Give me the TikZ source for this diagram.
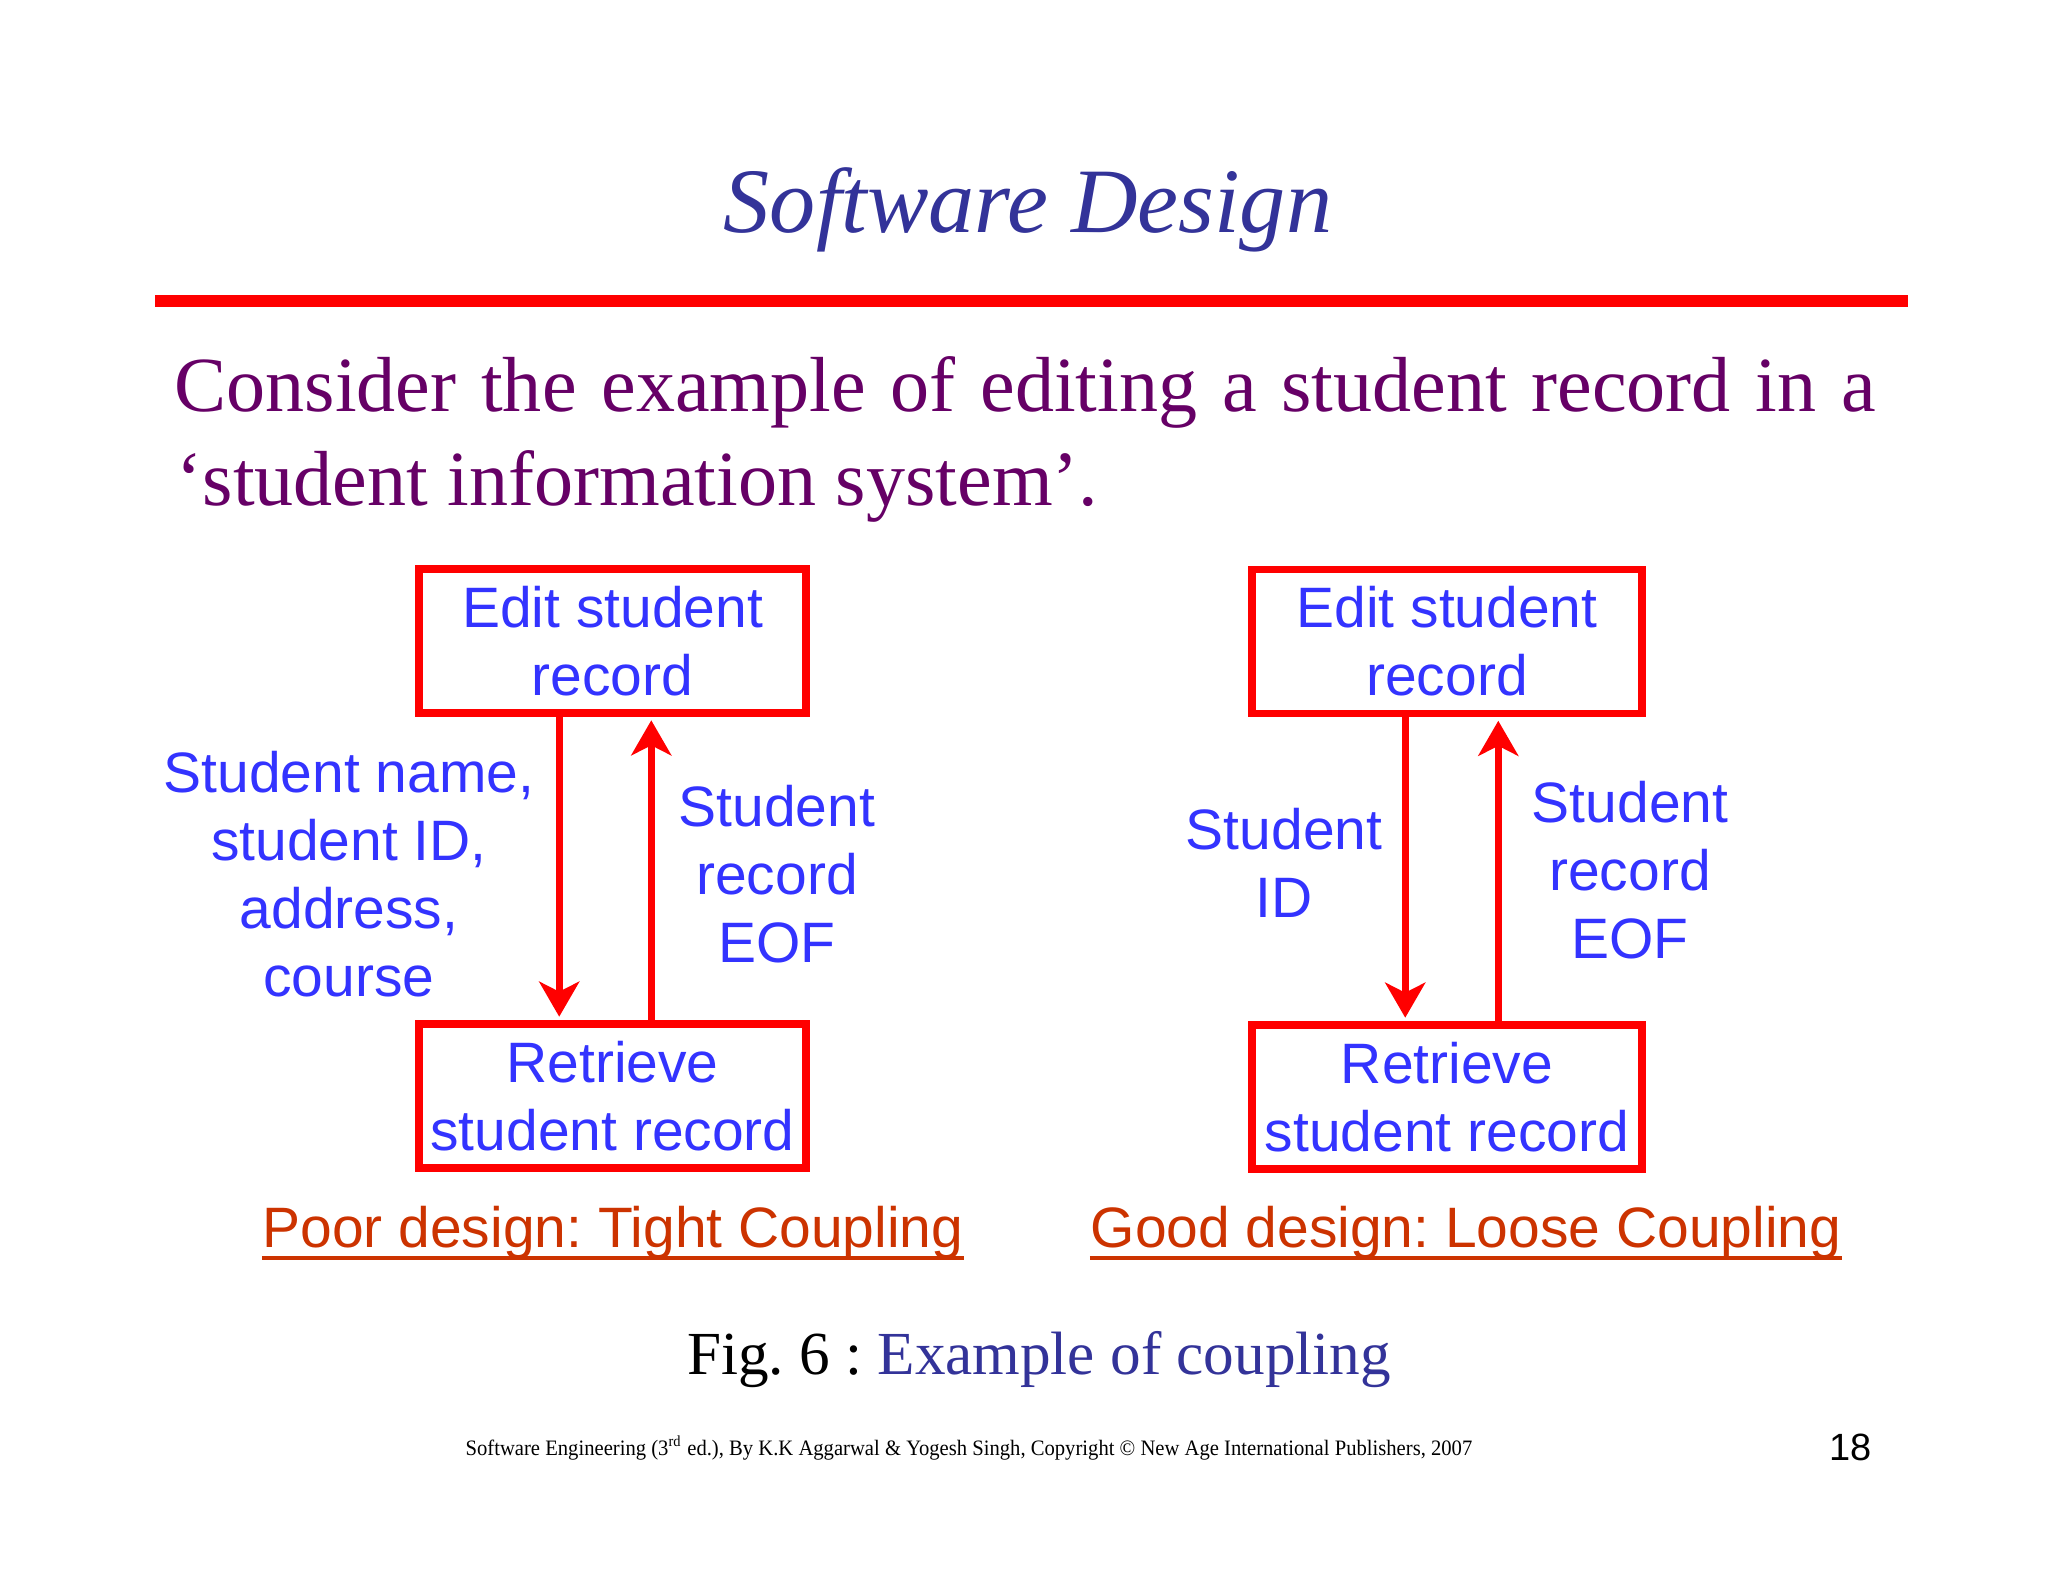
\documentclass[tikz,border=0pt]{standalone}
\usepackage{graphicx}
\usepackage{fontspec}
\setmainfont{Liberation Serif}
\newfontfamily\arialf{Liberation Sans}
\usetikzlibrary{arrows.meta}
\definecolor{boxred}{HTML}{FF0000}
\definecolor{txtblue}{HTML}{3333FF}
\definecolor{titleblue}{HTML}{333399}
\definecolor{purp}{HTML}{660066}
\definecolor{capred}{HTML}{CC3300}
\frenchspacing
\begin{document}
\begin{tikzpicture}[x=0.01cm,y=-0.01cm,
  box/.style={draw=boxred, line width=0.075cm, minimum width=3.87cm, minimum height=1.44cm, inner sep=0pt, align=center, text=txtblue, font=\arialf\fontsize{16.2}{19.35}\selectfont},
  lbl/.style={inner sep=0pt, align=center, text=txtblue, font=\arialf\fontsize{16.2}{19.35}\selectfont},
  arr/.style={draw=boxred, line width=0.07cm, -{Stealth[length=0.35cm,width=0.40cm,inset=0.1cm]}, shorten >=0.035cm},
  captxt/.style={inner sep=0pt, anchor=base, text=capred, font=\arialf\fontsize{16.2}{19.35}\selectfont},
  uline/.style={draw=capred, line width=0.04cm},
]
\path[use as bounding box, fill=white] (0,0) rectangle (2048,1582);

% title and rule
\node[anchor=base, inner sep=0pt, text=titleblue, font=\fontsize{26.2}{30}\selectfont\itshape] (title) at (1028,232) {Software Design};
\coordinate (ruleL) at (155,301);
\coordinate (ruleR) at (1908,301);
\draw[boxred, line width=0.12cm] (ruleL) -- (ruleR);

% intro text
\node[anchor=base west, inner sep=0pt, text=purp, font=\fontsize{22.2}{26}\selectfont] (m1) at (174,411) {\makebox[17cm][s]{Consider the example of editing a student record in a}};
\node[anchor=base west, inner sep=0pt, text=purp, font=\fontsize{22.2}{26}\selectfont] (m2) at (176,505) {‘student information system’.};

% left diagram
\node[box] (e1) at (612.5,641) {Edit student\\record};
\node[box] (r1) at (612.5,1096) {Retrieve\\student record};
\draw[arr] ([xshift=1.44cm]e1.south west) -- ([xshift=1.44cm]r1.north west);
\draw[arr] ([xshift=2.36cm]r1.north west) -- ([xshift=2.36cm]e1.south west);
\node[lbl] (l1) at (349,874) {Student name,\\student ID,\\address,\\course};
\node[lbl] (l2) at (777,874) {Student\\record\\EOF};

% right diagram
\node[box, minimum width=3.90cm] (e2) at (1447,641.5) {Edit student\\record};
\node[box, minimum width=3.90cm] (r2) at (1447,1097) {Retrieve\\student record};
\draw[arr] ([xshift=1.57cm]e2.south west) -- ([xshift=1.57cm]r2.north west);
\draw[arr] ([xshift=2.50cm]r2.north west) -- ([xshift=2.50cm]e2.south west);
\node[lbl] (l3) at (1284,863) {Student\\ID};
\node[lbl] (l4) at (1630,870) {Student\\record\\EOF};

% captions
\node[captxt] (c1) at (613,1247) {Poor design: Tight Coupling};
\draw[uline] ([yshift=-0.11cm]c1.base west) -- ([yshift=-0.11cm]c1.base east);
\node[captxt] (c2) at (1466,1247) {Good design: Loose Coupling};
\draw[uline] ([yshift=-0.11cm]c2.base west) -- ([yshift=-0.11cm]c2.base east);

% figure caption
\node[anchor=base, inner sep=0pt, font=\fontsize{17.4}{21}\selectfont] (fig) at (1039,1374) {Fig. 6 : \textcolor{titleblue}{Example of coupling}};

% footer
\node[anchor=base, inner sep=0pt, font=\fontsize{6.26}{7.5}\selectfont] (foot) at (969,1455) {\resizebox{10.06cm}{\height}{Software Engineering (3\textsuperscript{rd} ed.), By K.K Aggarwal \& Yogesh Singh, Copyright © New Age International Publishers, 2007}};
\node[anchor=base east, inner sep=0pt, font=\arialf\fontsize{10.8}{13}\selectfont] (pg) at (1872,1460) {18};
\end{tikzpicture}
\end{document}
